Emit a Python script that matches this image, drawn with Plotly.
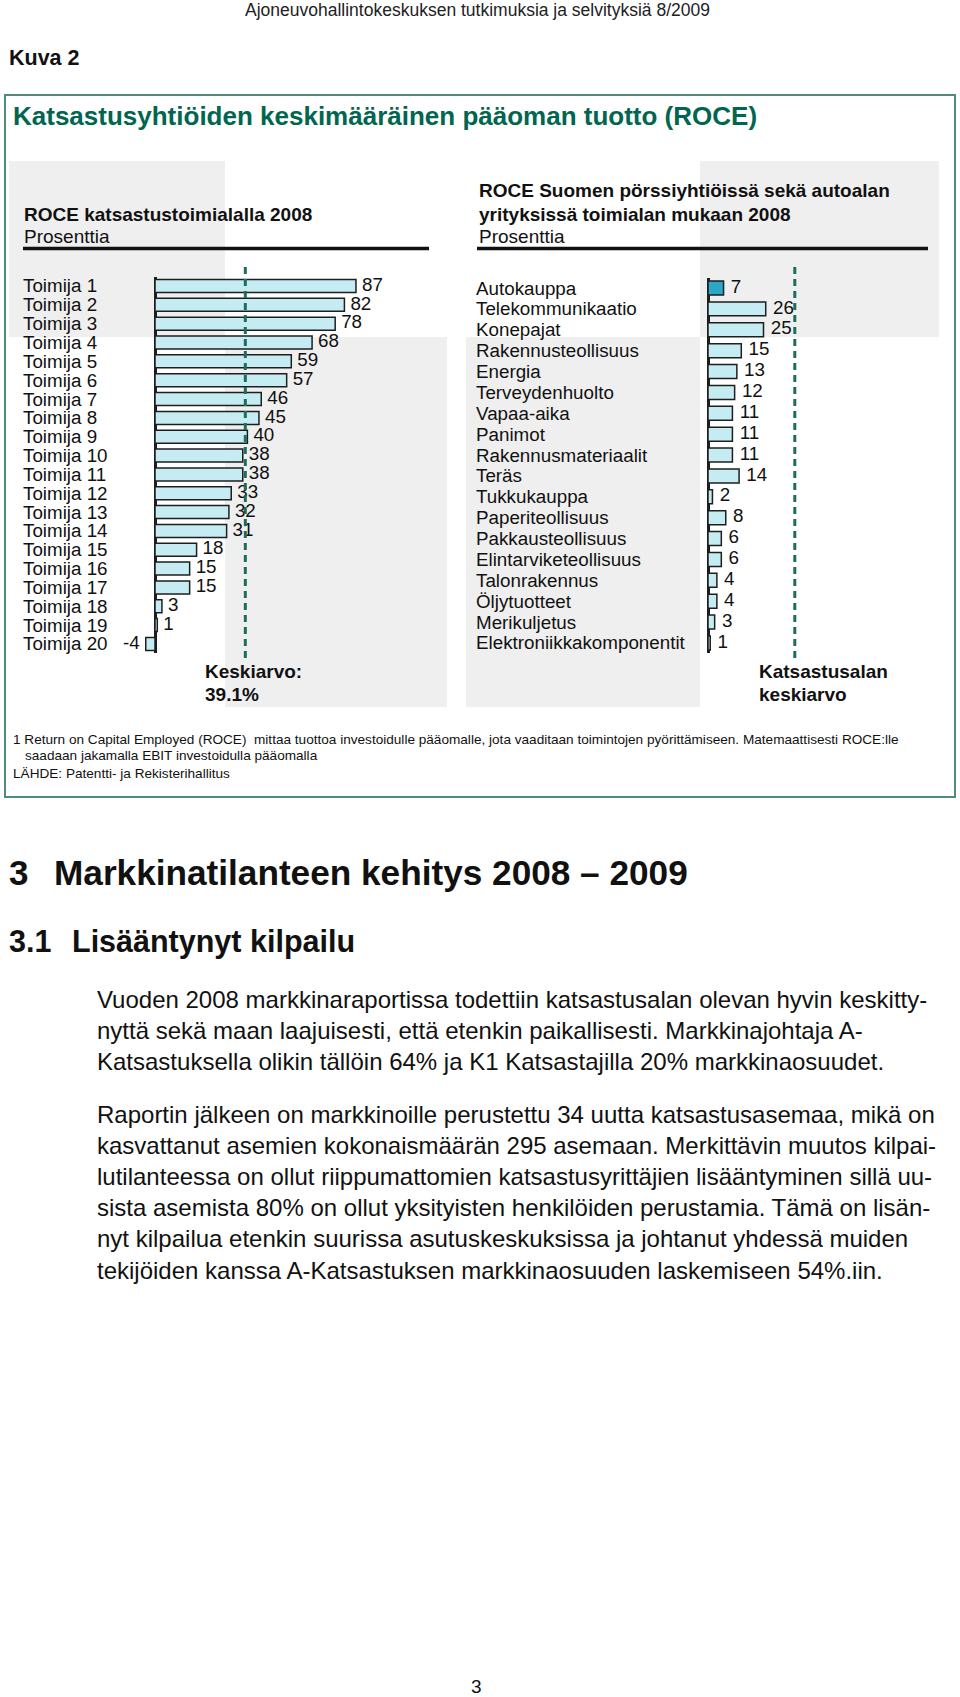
import plotly.graph_objects as go

# ---------------- data ----------------
left_categories = ["Toimija 1", "Toimija 2", "Toimija 3", "Toimija 4", "Toimija 5",
                   "Toimija 6", "Toimija 7", "Toimija 8", "Toimija 9", "Toimija 10",
                   "Toimija 11", "Toimija 12", "Toimija 13", "Toimija 14", "Toimija 15",
                   "Toimija 16", "Toimija 17", "Toimija 18", "Toimija 19", "Toimija 20"]
left_values = [87, 82, 78, 68, 59, 57, 46, 45, 40, 38, 38, 33, 32, 31, 18, 15, 15, 3, 1, -4]

right_categories = ["Autokauppa", "Telekommunikaatio", "Konepajat", "Rakennusteollisuus",
                    "Energia", "Terveydenhuolto", "Vapaa-aika", "Panimot",
                    "Rakennusmateriaalit", "Teräs", "Tukkukauppa", "Paperiteollisuus",
                    "Pakkausteollisuus", "Elintarviketeollisuus", "Talonrakennus",
                    "Öljytuotteet", "Merikuljetus", "Elektroniikkakomponentit"]
right_values = [7, 26, 25, 15, 13, 12, 11, 11, 11, 14, 2, 8, 6, 6, 4, 4, 3, 1]

industry_mean = 39.1
mean_label_left = ["Keskiarvo:", "39.1%"]
mean_label_right = ["Katsastusalan", "keskiarvo"]

body_para1 = [
    "Vuoden 2008 markkinaraportissa todettiin katsastusalan olevan hyvin keskitty-",
    "nyttä sekä maan laajuisesti, että etenkin paikallisesti. Markkinajohtaja A-",
    "Katsastuksella olikin tällöin 64% ja K1 Katsastajilla 20% markkinaosuudet.",
]
body_para2 = [
    "Raportin jälkeen on markkinoille perustettu 34 uutta katsastusasemaa, mikä on",
    "kasvattanut asemien kokonaismäärän 295 asemaan. Merkittävin muutos kilpai-",
    "lutilanteessa on ollut riippumattomien katsastusyrittäjien lisääntyminen sillä uu-",
    "sista asemista 80% on ollut yksityisten henkilöiden perustamia. Tämä on lisän-",
    "nyt kilpailua etenkin suurissa asutuskeskuksissa ja johtanut yhdessä muiden",
    "tekijöiden kanssa A-Katsastuksen markkinaosuuden laskemiseen 54%.iin.",
]

# ---------------- styling ----------------
W, H = 960, 1697
FONT = "Liberation Sans, Arial, Helvetica, sans-serif"
LIGHT = "#c5ecf2"
DARK = "#2aa8c6"
EDGE = "#1e1e1e"
GREEN = "#00664f"
BORDER = "#4f8c7c"
DASH = "#1c6e5c"
GRAY = "#efefef"
TXT = "#111111"
LABEL_SIZE = 18.8


def X(px):
    return px / W


def Y(py):
    return 1 - py / H


fig = go.Figure()

# left chart
fig.add_trace(go.Bar(
    x=left_values, y=left_categories, orientation="h", xaxis="x", yaxis="y",
    width=0.69, marker=dict(color=LIGHT, line=dict(color=EDGE, width=1.5)),
    hoverinfo="skip", showlegend=False))
fig.add_trace(go.Scatter(
    x=left_values, y=left_categories, xaxis="x", yaxis="y", mode="markers+text",
    text=[str(v) for v in left_values],
    textposition=["middle right" if v >= 0 else "middle left" for v in left_values],
    marker=dict(size=8, color="rgba(0,0,0,0)"),
    textfont=dict(family=FONT, size=LABEL_SIZE, color=TXT),
    cliponaxis=False, hoverinfo="skip", showlegend=False))

# right chart
fig.add_trace(go.Bar(
    x=right_values, y=right_categories, orientation="h", xaxis="x2", yaxis="y2",
    width=0.67,
    marker=dict(color=[DARK] + [LIGHT] * (len(right_values) - 1),
                line=dict(color=EDGE, width=1.5)),
    hoverinfo="skip", showlegend=False))
fig.add_trace(go.Scatter(
    x=right_values, y=right_categories, xaxis="x2", yaxis="y2", mode="markers+text",
    text=[str(v) for v in right_values],
    textposition=["middle right" if v >= 0 else "middle left" for v in right_values],
    marker=dict(size=10, color="rgba(0,0,0,0)"),
    textfont=dict(family=FONT, size=LABEL_SIZE, color=TXT),
    cliponaxis=False, hoverinfo="skip", showlegend=False))

axis_common = dict(showgrid=False, showticklabels=False, ticks="", fixedrange=True)

# left scale: zero at px 155, 2.31 px/unit
lx0, lscale = 155.0, 2.31
lrange = [-20, 100]
# right scale: zero at px 708, 2.22 px/unit
rx0, rscale = 708.0, 2.22
rrange = [-5, 60]

left_rows = len(left_categories)
right_rows = len(right_categories)

fig.update_layout(
    width=W, height=H,
    margin=dict(l=0, r=0, t=0, b=0),
    paper_bgcolor="white", plot_bgcolor="rgba(0,0,0,0)",
    font=dict(family=FONT, color=TXT),
    bargap=0.3,
    xaxis=dict(domain=[X(lx0 + lscale * lrange[0]), X(lx0 + lscale * lrange[1])],
               range=lrange, zeroline=True, zerolinecolor=EDGE, zerolinewidth=3,
               anchor="y", **axis_common),
    yaxis=dict(domain=[Y(286 + 18.84 * (left_rows - 0.5)), Y(286 - 18.84 * 0.5)],
               range=[left_rows - 0.5, -0.5], type="category", zeroline=False,
               anchor="x", **axis_common),
    xaxis2=dict(domain=[X(rx0 + rscale * rrange[0]), X(rx0 + rscale * rrange[1])],
                range=rrange, zeroline=True, zerolinecolor=EDGE, zerolinewidth=3,
                anchor="y2", **axis_common),
    yaxis2=dict(domain=[Y(288 + 20.88 * (right_rows - 0.5)), Y(288 - 20.88 * 0.5)],
                range=[right_rows - 0.5, -0.5], type="category", zeroline=False,
                anchor="x2", **axis_common),
)

shapes = []
# gray background blocks
for (x0, y0, x1, y1) in [(9, 161, 225, 337), (225, 337, 447, 707),
                         (700, 161, 939, 337), (466, 337, 700, 707)]:
    shapes.append(dict(type="rect", xref="paper", yref="paper",
                       x0=X(x0), x1=X(x1), y0=Y(y1), y1=Y(y0),
                       fillcolor=GRAY, line=dict(width=0), layer="below"))
# outer box
shapes.append(dict(type="rect", xref="paper", yref="paper",
                   x0=X(5), x1=X(955), y0=Y(797), y1=Y(95),
                   fillcolor="rgba(0,0,0,0)", line=dict(color=BORDER, width=2),
                   layer="above"))
# panel underlines
for (x0, x1) in [(23, 429), (477, 928)]:
    shapes.append(dict(type="line", xref="paper", yref="paper",
                       x0=X(x0), x1=X(x1), y0=Y(248.5), y1=Y(248.5),
                       line=dict(color="#111111", width=3.5), layer="above"))
# mean lines
for xr in ["x", "x2"]:
    shapes.append(dict(type="line", xref=xr, yref="paper",
                       x0=industry_mean, x1=industry_mean, y0=Y(658), y1=Y(266),
                       line=dict(color=DASH, width=3, dash="7px,5px"), layer="above"))
fig.update_layout(shapes=shapes)

ann = []


def txt(px, py, s, size, bold=False, color=TXT, xanchor="left"):
    ann.append(dict(xref="paper", yref="paper", x=X(px), y=Y(py),
                    text=f"<b>{s}</b>" if bold else s, showarrow=False,
                    xanchor=xanchor, yanchor="middle",
                    font=dict(family=FONT, size=size, color=color)))


# page header
txt(477, 10, "Ajoneuvohallintokeskuksen tutkimuksia ja selvityksiä 8/2009", 17.5,
    xanchor="center", color="#222222")
txt(7, 58, "Kuva 2", 21.5, bold=True)
txt(11, 116, "Katsastusyhtiöiden keskimääräinen pääoman tuotto (ROCE)", 26,
    bold=True, color=GREEN)

# panel titles
txt(22, 214, "ROCE katsastustoimialalla 2008", 19, bold=True)
txt(22, 237, "Prosenttia", 19)
txt(477, 191, "ROCE Suomen pörssiyhtiöissä sekä autoalan", 19, bold=True)
txt(477, 214, "yrityksissä toimialan mukaan 2008", 19, bold=True)
txt(477, 237, "Prosenttia", 19)

# category labels (left aligned)
for c in left_categories:
    ann.append(dict(xref="paper", yref="y", x=X(21), y=c, text=c, showarrow=False,
                    xanchor="left", yanchor="middle",
                    font=dict(family=FONT, size=LABEL_SIZE, color=TXT)))
for c in right_categories:
    ann.append(dict(xref="paper", yref="y2", x=X(474), y=c, text=c, showarrow=False,
                    xanchor="left", yanchor="middle",
                    font=dict(family=FONT, size=LABEL_SIZE, color=TXT)))

# mean labels
txt(203, 672, mean_label_left[0], 19, bold=True)
txt(203, 694, mean_label_left[1], 19, bold=True)
txt(757, 672, mean_label_right[0], 19, bold=True)
txt(757, 694, mean_label_right[1], 19, bold=True)

# footnotes
txt(11, 739, "1 Return on Capital Employed (ROCE)  mittaa tuottoa investoidulle pääomalle, "
             "jota vaaditaan toimintojen pyörittämiseen. Matemaattisesti ROCE:lle", 13.6)
txt(23, 755, "saadaan jakamalla EBIT investoidulla pääomalla", 13.6)
txt(11, 774, "LÄHDE: Patentti- ja Rekisterihallitus", 13.6)

# headings
txt(7, 872, "3", 35, bold=True)
txt(52, 872, "Markkinatilanteen kehitys 2008 – 2009", 35.2, bold=True)
txt(7, 941, "3.1", 30.5, bold=True)
txt(70, 941, "Lisääntynyt kilpailu", 30.5, bold=True)

# body text
for i, line in enumerate(body_para1):
    txt(95, 999 + 31 * i, line, 24)
for i, line in enumerate(body_para2):
    txt(95, 1114 + 31.2 * i, line, 24)

# page number
txt(476, 1686, "3", 19, xanchor="center")

fig.update_layout(annotations=ann)
fig.write_html("out.html",
               config={"displayModeBar": False, "staticPlot": True},
               post_script="document.body.style.margin='0';"
                           "document.body.style.padding='0';")
